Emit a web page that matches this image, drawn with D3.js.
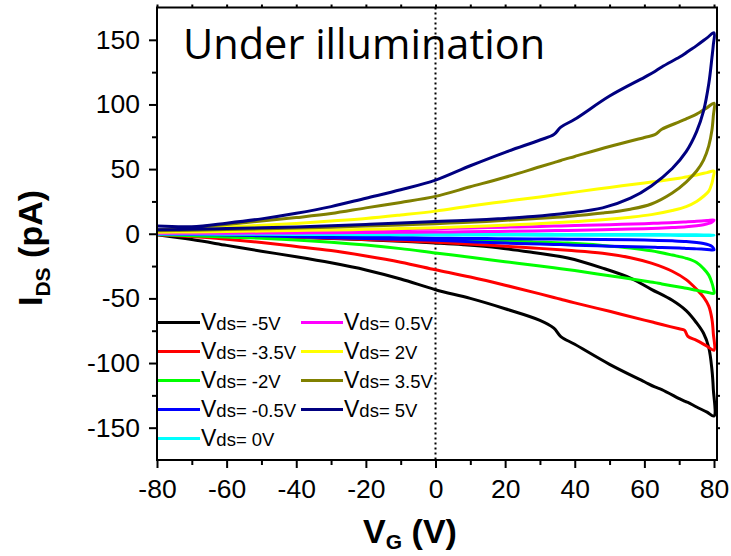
<!DOCTYPE html>
<html><head><meta charset="utf-8">
<script src="https://cdn.jsdelivr.net/npm/d3@7"></script>
<style>body{margin:0;background:#fff}</style>
</head><body>
<svg id="c" width="731" height="556"></svg>
<script>
// ---- data ----
const xTicks = [-80,-60,-40,-20,0,20,40,60,80];
const xMinor = [-70,-50,-30,-10,10,30,50,70];
const yTicks = [-150,-100,-50,0,50,100,150];
const yMinor = [-175,-125,-75,-25,25,75,125,175];
const vdsLabels = ["-5V","-3.5V","-2V","-0.5V","0V","0.5V","2V","3.5V","5V"];
const seriesColors = ["#000000","#ff0000","#00ff00","#0000ff","#00ffff","#ff00ff","#ffff00","#808000","#000080"];
// forward sweep (VG: -80 -> 80)
const gridFwd = [-80,-70,-60,-50,-40,-30,-20,-10,0,10,20,30,34,36,40,50,60,63,65,70,71.5,72.5,75,78,80];
// reverse sweep (VG: 80 -> -80)
const gridRev = [80,79.8,79.4,78.5,77,75,72,68,62,56,48,38,28,18,8,0,-10,-20,-30,-40,-50,-60,-70,-80];

const fwdM5   = [-0.8,-4.5,-9,-13.5,-17.8,-22.5,-28,-35,-43.3,-50,-58,-67,-73,-79.5,-85.5,-101,-114.5,-118.5,-120.5,-127.5,-129.5,-130.5,-134,-138,-141];
const fwdM35  = [-0.8,-2.2,-4.3,-6.8,-9.8,-13,-17.2,-22,-27.8,-33.5,-39.8,-46.5,-49.3,-50.7,-53.5,-60,-66.8,-68.8,-70.2,-73.5,-74.5,-79.4,-82.5,-87,-90];
const fwdM2   = [-0.5,-1.5,-2.5,-3.5,-4.8,-6.5,-8.7,-11.5,-14.9,-18.2,-21.6,-25,-26.3,-27,-28.5,-32.5,-36.5,-37.8,-38.8,-41.2,-41.9,-42.4,-43.8,-45.2,-46];
const fwdM05  = [-0.1,-0.5,-1,-1.6,-2.3,-3,-3.7,-4.3,-5,-6.2,-7.2,-8,-8.3,-8.4,-8.8,-9.6,-10.3,-10.5,-10.7,-11.1,-11.3,-11.4,-11.7,-12.1,-12.4];
const fwd0    = [-0.1,-0.2,-0.3,-0.4,-0.5,-0.6,-0.7,-0.8,-0.9,-1,-1,-1.1,-1.1,-1.1,-1.1,-1.2,-1.2,-1.2,-1.2,-1.3,-1.3,-1.3,-1.3,-1.3,-1.3];
const fwdP05  = [0.3,0.6,0.9,1.3,1.7,2.2,2.7,3.3,3.9,4.5,5.1,5.7,5.9,6,6.3,7,7.8,8.1,8.3,8.9,9.1,9.2,9.6,10.2,10.6];
const fwdP2   = [2,3.6,5.3,6.5,8,9.8,11.8,14.5,17.5,21.5,25,28.5,30,30.8,32.2,35.8,39.3,40.3,41,43,43.7,44.2,45.5,47.3,48.5];
const fwdP35  = [3,4.8,7.2,9.8,12.5,15.6,20,24.2,28.9,36.3,43.7,51.8,55,56.7,59.8,67.5,74.5,76.6,80.8,86.5,88.2,89.5,92.5,97.5,101];
const fwdP5   = [6,5.5,8.2,11.5,15.8,21,27.5,34,41.5,52.6,63,72.5,76.7,82.5,88.5,106.5,121,125.5,129,136.5,139,141,145.5,151.5,155.5];

const revM5   = [-141,-120,-105,-88,-77,-69,-59.5,-51.5,-43,-34.3,-26.6,-18.8,-14.5,-10.8,-8.5,-7.2,-5.8,-4.6,-3.6,-2.8,-2.1,-1.6,-1.2,-0.8];
const revM35  = [-90,-77,-66,-56,-49,-43,-35.5,-29,-22.7,-18.5,-15,-12.8,-11,-9.3,-7.8,-6.6,-5.4,-4.4,-3.5,-2.7,-2.1,-1.6,-1.2,-0.8];
const revM2   = [-46,-42,-38,-32,-27,-22.2,-19,-16.5,-13.2,-11,-9,-7.2,-6.3,-5.5,-4.9,-4.5,-3.8,-3.2,-2.6,-2.1,-1.6,-1.2,-0.8,-0.5];
const revM05  = [-12.4,-11,-9.8,-8.6,-7.6,-6.8,-6,-5.5,-5,-4.7,-4.5,-4.2,-4,-3.8,-3.6,-3.4,-3,-2.5,-2,-1.5,-1.1,-0.7,-0.4,-0.1];
const rev0    = [-1.3,-1.2,-1.1,-1,-0.9,-0.8,-0.75,-0.7,-0.65,-0.6,-0.55,-0.5,-0.45,-0.4,-0.35,-0.3,-0.25,-0.2,-0.15,-0.1,-0.1,-0.05,0,0];
const revP05  = [10.6,9.8,9,8,7,6.2,5.4,4.8,4.1,3.6,3.1,2.6,2.2,1.8,1.5,1.3,1.1,0.9,0.8,0.6,0.5,0.4,0.3,0.3];
const revP2   = [48.5,44,39,33,29,25,21,18,14.8,12.8,10.8,9,7.6,6.4,5.4,4.7,4,3.4,2.9,2.5,2.1,1.7,1.4,1.1];
const revP35  = [101,91,80,68,57,48.5,40,31.5,23,19,16,13.4,11.6,10,8.7,7.8,6.8,5.9,5.1,4.4,3.8,3.2,2.7,2.3];
const revP5   = [155.5,146,136,116,95,79,63.5,50.5,37,27.5,20,16,13.3,11.6,10.2,9.5,8.3,7.2,6.2,5.3,4.6,4,3.5,3];

const fwdSeries = [fwdM5,fwdM35,fwdM2,fwdM05,fwd0,fwdP05,fwdP2,fwdP35,fwdP5];
const revSeries = [revM5,revM35,revM2,revM05,rev0,revP05,revP2,revP35,revP5];

// ---- drawing ----
const svg = d3.select("#c");
const L = 157, R = 717, T = 7.5, B = 460;
const x = d3.scaleLinear().domain([-80, 80.86]).range([L, R]);
const y = d3.scaleLinear().domain([-175, 175]).range([B, T]);
const font = "'Liberation Sans', Arial, sans-serif";

svg.append("defs").append("clipPath").attr("id","clip")
  .append("rect").attr("x",L).attr("y",T).attr("width",R-L).attr("height",B-T);

// dotted zero line
svg.append("line").attr("x1",x(0)).attr("x2",x(0)).attr("y1",T).attr("y2",B)
  .attr("stroke","#000").attr("stroke-width",2).attr("stroke-dasharray","2,3");

// curves
const line = d3.line().x(d=>x(d[0])).y(d=>y(d[1])).curve(d3.curveCatmullRom.alpha(0.5));
const gData = svg.append("g").attr("clip-path","url(#clip)");
fwdSeries.forEach((f,i)=>{
  const pts = gridFwd.map((gx,k)=>[gx,f[k]]).concat(gridRev.slice(1).map((gx,k)=>[gx,revSeries[i][k+1]]));
  gData.append("path").attr("d",line(pts)).attr("fill","none")
    .attr("stroke",seriesColors[i]).attr("stroke-width",3).attr("stroke-linejoin","round");
});

// frame
svg.append("rect").attr("x",L).attr("y",T).attr("width",R-L).attr("height",B-T)
  .attr("fill","none").attr("stroke","#000").attr("stroke-width",2);

// axes
function styleAxis(g){ g.select(".domain").remove(); g.selectAll("line").attr("stroke","#000").attr("stroke-width",2); g.selectAll("text").attr("font-family",font).attr("font-size",26.5).attr("fill","#000"); }
svg.append("g").attr("transform",`translate(${L},0)`)
  .call(d3.axisLeft(y).tickValues(yTicks).tickSize(8).tickPadding(9).tickFormat(d=>String(d))).call(styleAxis);
svg.append("g").attr("transform",`translate(${L},0)`)
  .call(d3.axisLeft(y).tickValues(yMinor.filter(v=>v>-175&&v<175)).tickSize(5).tickFormat("")).call(styleAxis);
svg.append("g").attr("transform",`translate(0,${B})`)
  .call(d3.axisBottom(x).tickValues(xTicks).tickSize(8).tickPadding(11).tickFormat(d=>String(d))).call(styleAxis);
svg.append("g").attr("transform",`translate(0,${B})`)
  .call(d3.axisBottom(x).tickValues(xMinor).tickSize(5).tickFormat("")).call(styleAxis);
// mirror ticks
svg.append("g").attr("transform",`translate(0,${T})`)
  .call(d3.axisTop(x).tickValues(xTicks.concat(xMinor)).tickSize(3).tickFormat("")).call(styleAxis);
svg.append("g").attr("transform",`translate(${R},0)`)
  .call(d3.axisRight(y).tickValues(yTicks.concat(yMinor.filter(v=>v>-175&&v<175))).tickSize(3).tickFormat("")).call(styleAxis);

// title inside
svg.append("text").attr("x",183).attr("y",59).attr("font-family","'Open Sans', Lato, sans-serif")
  .attr("font-size",41.5).attr("fill","#000").text("Under illumination");

// axis titles
const yt = svg.append("text").attr("transform","translate(42,248) rotate(-90)")
  .attr("text-anchor","middle").attr("font-family",font).attr("font-weight","bold").attr("fill","#000");
yt.append("tspan").attr("font-size",34).text("I");
yt.append("tspan").attr("font-size",21).attr("dy",8).text("DS");
yt.append("tspan").attr("font-size",34).attr("dy",-8).text(" (pA)");

const xt = svg.append("text").attr("x",410).attr("y",543)
  .attr("text-anchor","middle").attr("font-family",font).attr("font-weight","bold").attr("fill","#000");
xt.append("tspan").attr("font-size",34).text("V");
xt.append("tspan").attr("font-size",21).attr("dy",6).text("G");
xt.append("tspan").attr("font-size",34).attr("dy",-6).text(" (V)");

// legend
const lg = svg.append("g");
vdsLabels.forEach((lab,i)=>{
  const col = i < 5 ? 0 : 1, row = i < 5 ? i : i-5;
  const x0 = col === 0 ? 158 : 301;
  const yb = 330 + row*29;
  lg.append("line").attr("x1",x0).attr("x2",x0+42).attr("y1",yb-7.5).attr("y2",yb-7.5)
    .attr("stroke",seriesColors[i]).attr("stroke-width",3);
  const t = lg.append("text").attr("x",x0+43).attr("y",yb).attr("font-family",font).attr("fill","#000");
  t.append("tspan").attr("font-size",23).text("V");
  t.append("tspan").attr("font-size",18.5).text("ds= "+lab);
});
</script>
</body></html>
